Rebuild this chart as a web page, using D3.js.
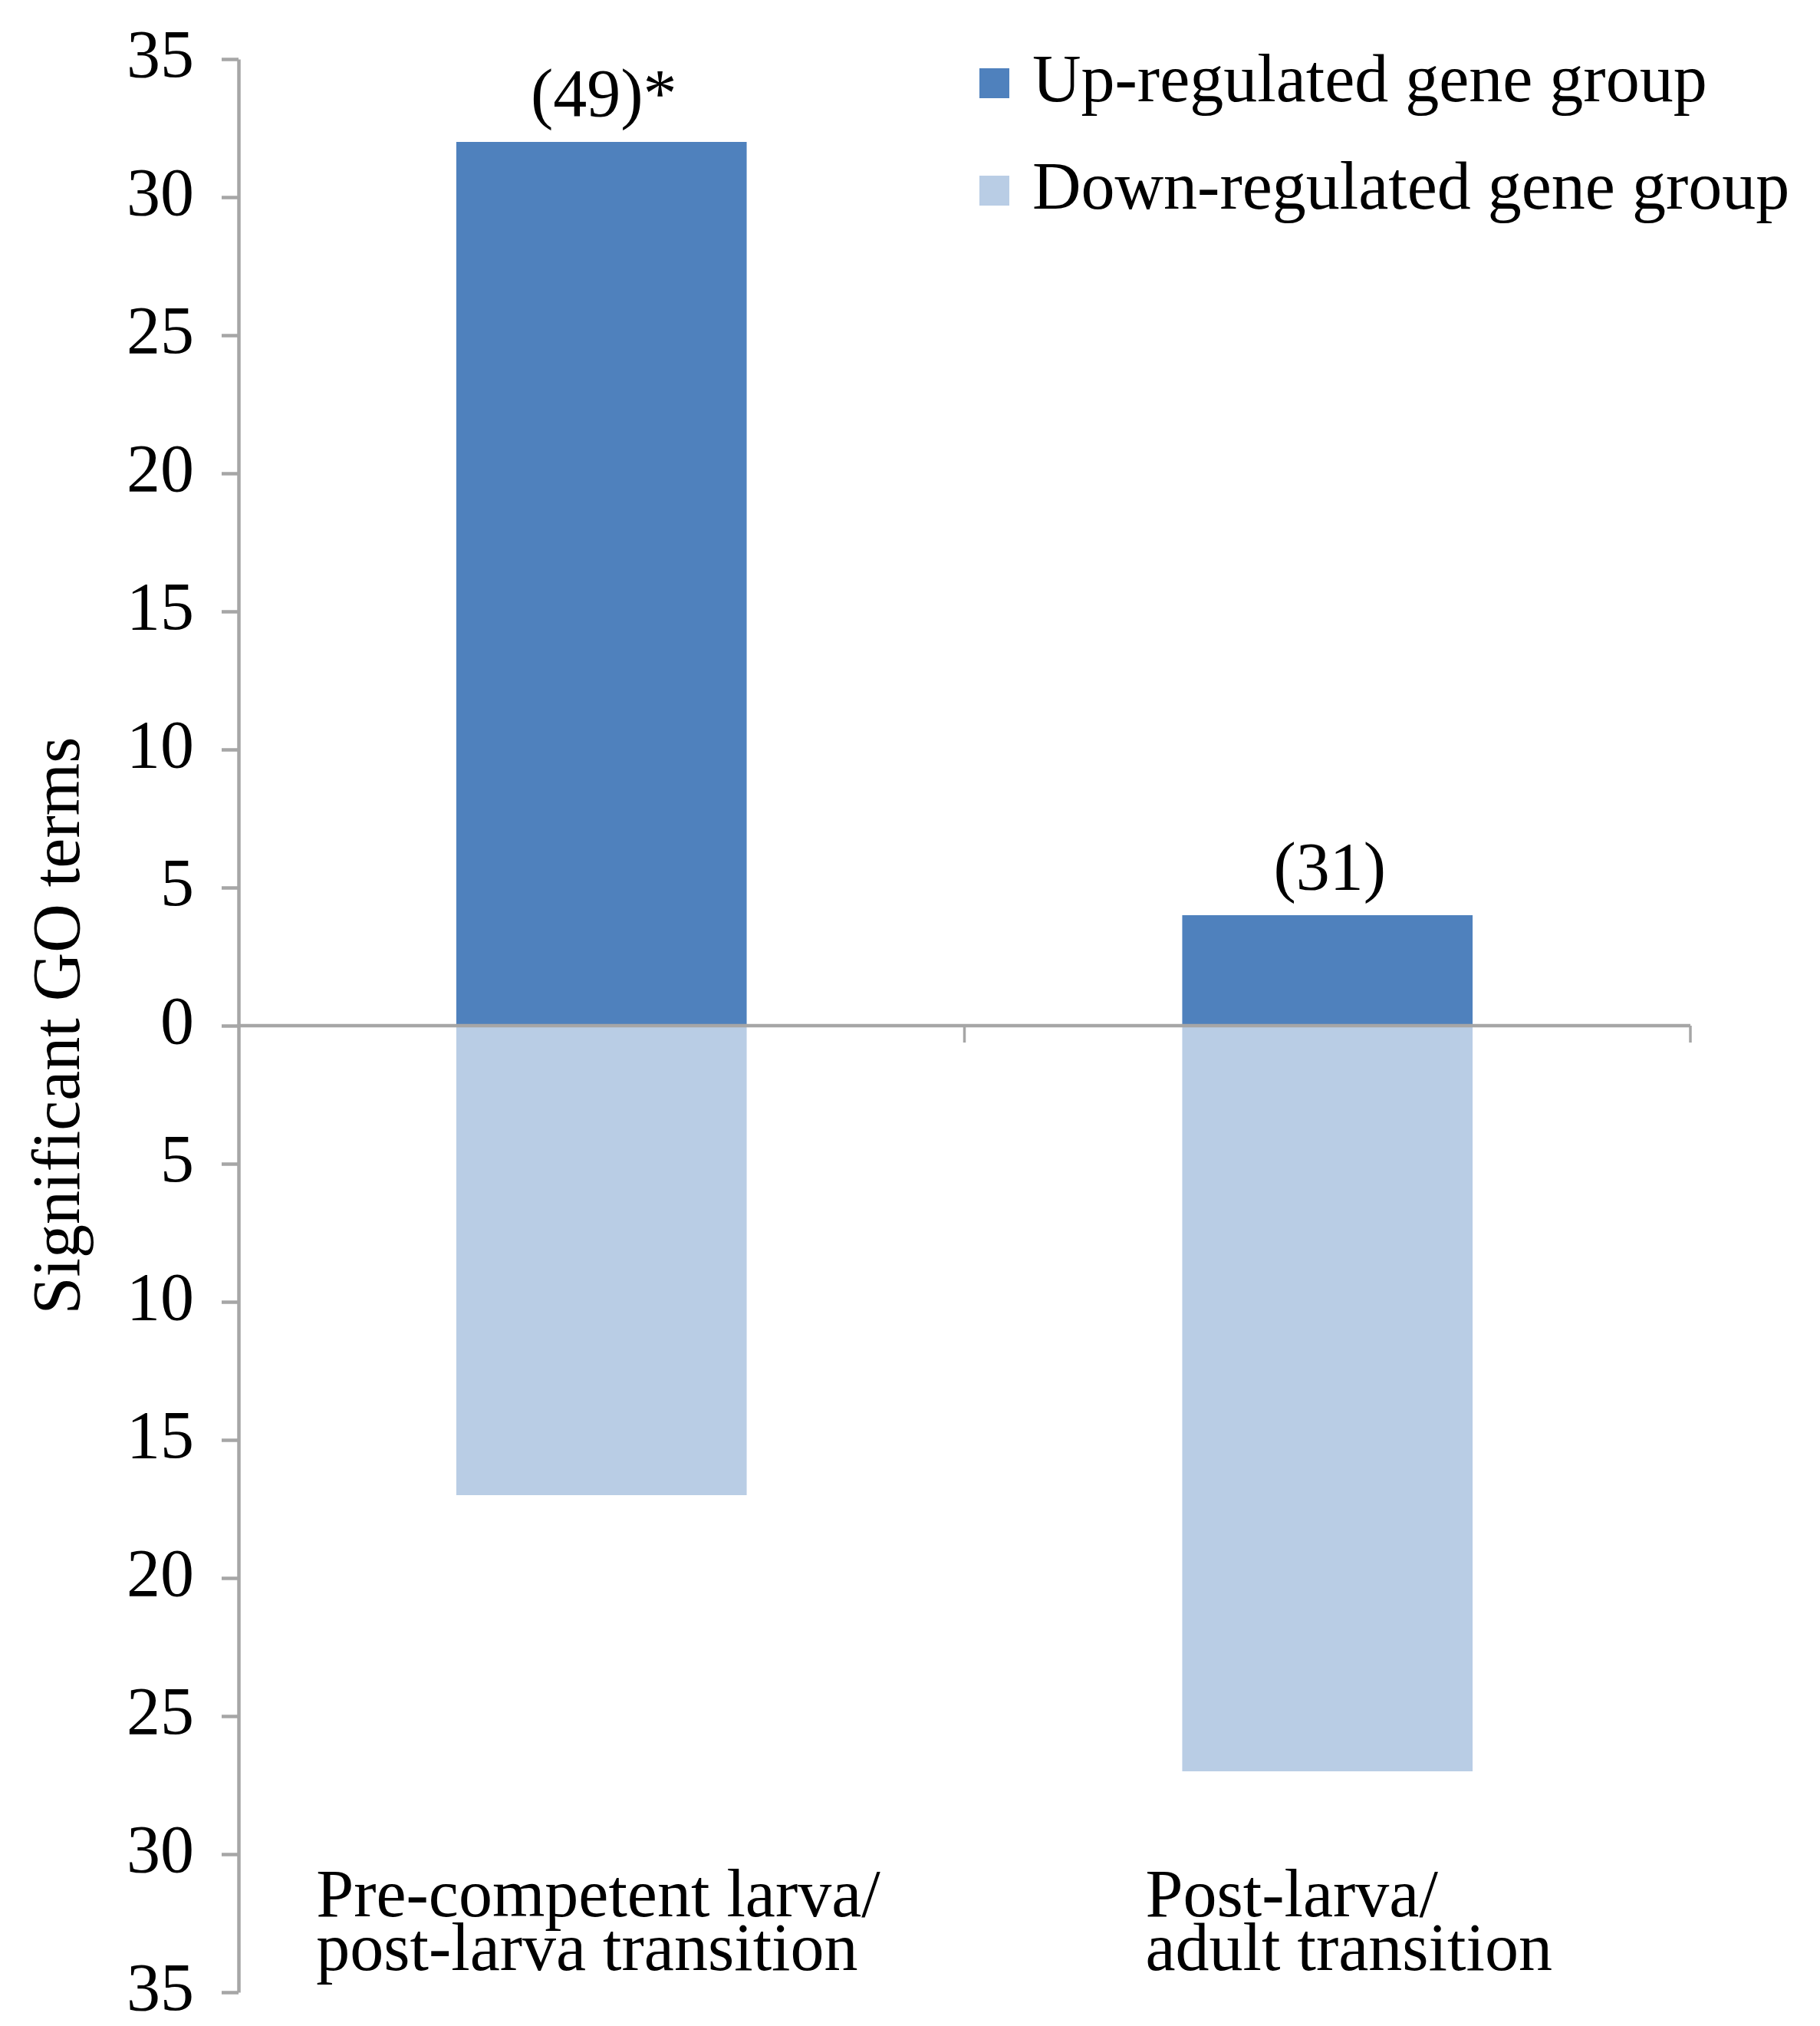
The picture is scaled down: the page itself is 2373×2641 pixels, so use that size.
<!DOCTYPE html>
<html>
<head>
<meta charset="utf-8">
<script src="https://cdn.jsdelivr.net/npm/d3@7"></script>
<style>
  html, body { margin: 0; padding: 0; background: #ffffff; }
  svg { display: block; }
  text { font-family: "Liberation Serif", "Times New Roman", serif; fill: #000; }
</style>
</head>
<body>
<svg id="chart" width="2373" height="2641"></svg>
<script>
// ---- data ----
const categories = ["Pre-competent larva/ post-larva transition", "Post-larva/ adult transition"];
const categoryLines = [["Pre-competent larva/", "post-larva transition"], ["Post-larva/", "adult transition"]];
const upValues = [32, 4];
const downValues = [17, 27];
const totalLabels = ["(49)*", "(31)"];
const seriesNames = ["Up-regulated gene group", "Down-regulated gene group"];
const yTickValues = [-35, -30, -25, -20, -15, -10, -5, 0, 5, 10, 15, 20, 25, 30, 35];
const yAxisTitle = "Significant GO terms";

// ---- layout ----
const plotLeft = 311, plotRight = 2204, plotTop = 77, plotBottom = 2597;
const colors = ["#4F81BD", "#B9CDE5"];
const gray = "#A6A6A6";
const fontSize = 88;

const svg = d3.select("#chart");

const y = d3.scaleLinear().domain([-35, 35]).range([plotBottom, plotTop]);
const xOuter = d3.scaleBand().domain(categories).range([plotLeft, plotRight]).padding(0);
const x = d3.scaleBand().domain(categories).range([plotLeft, plotRight]).paddingInner(0.6).paddingOuter(0.3);

// bars
const gBars = svg.append("g");
gBars.selectAll("rect.up").data(categories).join("rect")
  .attr("class", "up")
  .attr("x", d => x(d))
  .attr("width", x.bandwidth())
  .attr("y", (d, i) => y(upValues[i]))
  .attr("height", (d, i) => y(0) - y(upValues[i]))
  .attr("fill", colors[0]);
gBars.selectAll("rect.down").data(categories).join("rect")
  .attr("class", "down")
  .attr("x", d => x(d))
  .attr("width", x.bandwidth())
  .attr("y", y(0))
  .attr("height", (d, i) => y(-downValues[i]) - y(0))
  .attr("fill", colors[1]);

// total labels
svg.selectAll("text.total").data(categories).join("text")
  .attr("class", "total")
  .attr("x", d => x(d) + x.bandwidth() / 2 + 3)
  .attr("y", (d, i) => y(upValues[i]) - 34)
  .attr("text-anchor", "middle")
  .attr("font-size", fontSize)
  .text((d, i) => totalLabels[i]);

// y axis
const yAxis = d3.axisLeft(y)
  .tickValues(yTickValues)
  .tickFormat(d => Math.abs(d))
  .tickSize(22)
  .tickSizeOuter(0)
  .tickPadding(36);
const gy = svg.append("g").attr("transform", `translate(${plotLeft},0)`).call(yAxis);
gy.select(".domain").attr("stroke", gray).attr("stroke-width", 4.5);
gy.selectAll(".tick line").attr("stroke", gray).attr("stroke-width", 4.5);
gy.selectAll(".tick text")
  .attr("font-size", fontSize)
  .attr("font-family", '"Liberation Serif", "Times New Roman", serif')
  .attr("fill", "#000")
  .attr("dy", "0.25em");

// x axis (zero line) with category boundary ticks
const gx = svg.append("g");
gx.append("line")
  .attr("x1", plotLeft).attr("x2", plotRight)
  .attr("y1", y(0)).attr("y2", y(0))
  .attr("stroke", gray).attr("stroke-width", 4.5);
gx.selectAll("line.ctick").data(categories).join("line")
  .attr("class", "ctick")
  .attr("x1", d => xOuter(d) + xOuter.bandwidth())
  .attr("x2", d => xOuter(d) + xOuter.bandwidth())
  .attr("y1", y(0)).attr("y2", y(0) + 22)
  .attr("stroke", gray).attr("stroke-width", 3.5);

// category labels (left aligned block, positioned from the band)
const baseLine1 = 2498, lineGap = 70;
const labelShift = [-4, 28];
categories.forEach((c, i) => {
  const g = svg.append("g");
  const t = g.append("text").attr("font-size", fontSize).attr("text-anchor", "start");
  categoryLines[i].forEach((ln, j) => {
    t.append("tspan").attr("x", 0).attr("y", baseLine1 + j * lineGap).text(ln);
  });
  const bw = t.node().getBBox().width;
  const cx = x(c) + x.bandwidth() / 2;
  g.attr("transform", `translate(${cx - bw / 2 + labelShift[i]},0)`);
});

// y axis title
svg.append("text")
  .attr("transform", `translate(103,${(plotTop + plotBottom) / 2}) rotate(-90)`)
  .attr("text-anchor", "middle")
  .attr("font-size", fontSize)
  .text(yAxisTitle);

// legend
const legend = svg.append("g").attr("transform", "translate(1277,89)");
seriesNames.forEach((s, i) => {
  legend.append("rect")
    .attr("x", 0).attr("y", i * 140)
    .attr("width", 39).attr("height", 39)
    .attr("fill", colors[i]);
  legend.append("text")
    .attr("x", 69).attr("y", i * 140 + 43)
    .attr("font-size", fontSize)
    .text(s);
});
</script>
</body>
</html>
